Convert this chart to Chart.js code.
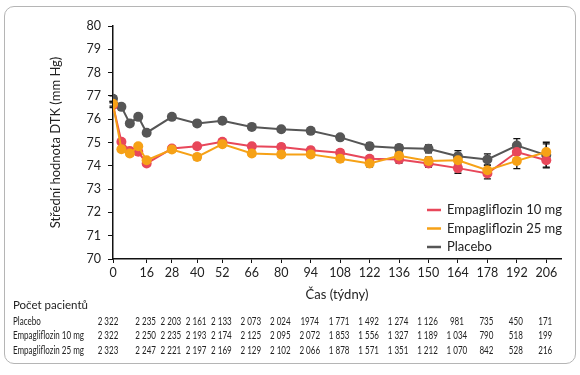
<!DOCTYPE html>
<html>
<head>
<meta charset="utf-8">
<script src="https://cdn.jsdelivr.net/npm/chart.js@4.4.0/dist/chart.umd.min.js"></script>
<style>
  html, body { margin: 0; padding: 0; background: #fff; }
  #wrap { position: relative; width: 580px; height: 375px; }
  #frame {
    position: absolute; left: 4px; top: 6px; width: 572px; height: 358px;
    border: 1px solid #b5b5b5; border-radius: 10px; box-sizing: border-box;
  }
  canvas { position: absolute; left: 0; top: 0; }
</style>
</head>
<body>
<div id="wrap">
  <div id="frame"></div>
  <canvas id="graf" width="580" height="375"></canvas>
</div>
<script>
// Týdny měření
const tydny = [0, 4, 8, 12, 16, 28, 40, 52, 66, 80, 94, 108, 122, 136, 150, 164, 178, 192, 206];
// Popisky osy x (a sloupce tabulky)
const popiskyX = [0, 16, 28, 40, 52, 66, 80, 94, 108, 122, 136, 150, 164, 178, 192, 206];

// Střední hodnota DTK (mm Hg)
const placebo = [76.88, 76.53, 75.82, 76.1, 75.42, 76.1, 75.82, 75.93, 75.67, 75.57, 75.5, 75.22, 74.84, 74.76, 74.73, 74.41, 74.27, 74.87, 74.46];
const empa10  = [76.6, 75.03, 74.64, 74.6, 74.1, 74.74, 74.84, 75.03, 74.84, 74.81, 74.67, 74.56, 74.3, 74.27, 74.1, 73.9, 73.67, 74.59, 74.24];
const empa25  = [76.66, 74.71, 74.53, 74.84, 74.24, 74.7, 74.38, 74.93, 74.53, 74.49, 74.49, 74.3, 74.1, 74.43, 74.21, 74.24, 73.81, 74.21, 74.59];

// Chybové úsečky (±)
const chybaPlacebo = [0.12, 0.1, 0.1, 0.1, 0.1, 0.1, 0.12, 0.1, 0.1, 0.1, 0.12, 0.12, 0.14, 0.15, 0.17, 0.24, 0.24, 0.3, 0.55];
const chybaEmpa10  = [0.1, 0.1, 0.1, 0.1, 0.1, 0.1, 0.1, 0.1, 0.1, 0.12, 0.12, 0.12, 0.14, 0.15, 0.16, 0.22, 0.23, 0.28, 0.3];
const chybaEmpa25  = [0.1, 0.1, 0.1, 0.1, 0.1, 0.1, 0.12, 0.1, 0.1, 0.12, 0.12, 0.12, 0.14, 0.15, 0.16, 0.2, 0.22, 0.33, 0.35];

// Počet pacientů
const pocetPlacebo = ['2 322', '2 235', '2 203', '2 161', '2 133', '2 073', '2 024', '1974', '1 771', '1 492', '1 274', '1 126', '981', '735', '450', '171'];
const pocetEmpa10  = ['2 322', '2 250', '2 235', '2 193', '2 174', '2 125', '2 095', '2 072', '1 853', '1 556', '1 327', '1 189', '1 034', '790', '518', '199'];
const pocetEmpa25  = ['2 323', '2 247', '2 221', '2 197', '2 169', '2 129', '2 102', '2 066', '1 878', '1 571', '1 351', '1 212', '1 070', '842', '528', '216'];

const barvy = { e10: '#e8475a', e25: '#f6a116', pl: '#565656' };
const pismo = 'Lato, "Open Sans", sans-serif';

const body = (hodnoty) => hodnoty.map((v, i) => ({ x: tydny[i], y: v }));

// Chybové úsečky – kreslí se pod body
const chybyPlugin = {
  id: 'chyby',
  beforeDatasetsDraw(chart) {
    const ctx = chart.ctx;
    const xs = chart.scales.x, ys = chart.scales.y;
    ctx.save();
    ctx.strokeStyle = '#111';
    ctx.lineWidth = 1.3;
    chart.data.datasets.forEach(ds => {
      ds.data.forEach((p, i) => {
        const e = ds.chyby[i];
        const x = xs.getPixelForValue(p.x);
        const y1 = ys.getPixelForValue(p.y + e);
        const y2 = ys.getPixelForValue(p.y - e);
        ctx.beginPath();
        ctx.moveTo(x, y1); ctx.lineTo(x, y2);
        ctx.moveTo(x - 3.5, y1); ctx.lineTo(x + 3.5, y1);
        ctx.moveTo(x - 3.5, y2); ctx.lineTo(x + 3.5, y2);
        ctx.stroke();
      });
    });
    ctx.restore();
  }
};

// zúžený text (tabulka je v úzkém písmu)
function uzkyText(ctx, text, x, y, sx, zarovnani) {
  const w = ctx.measureText(text).width * sx;
  let x0 = x;
  if (zarovnani === 'center') x0 = x - w / 2;
  ctx.save();
  ctx.translate(x0, y);
  ctx.scale(sx, 1);
  ctx.textAlign = 'left';
  ctx.fillText(text, 0, 0);
  ctx.restore();
}

// Legenda a tabulka počtu pacientů
const doplnkyPlugin = {
  id: 'doplnky',
  afterDraw(chart) {
    const ctx = chart.ctx;
    const xs = chart.scales.x;
    ctx.save();
    // legenda
    const polozky = [
      ['Empagliflozin 10 mg', barvy.e10],
      ['Empagliflozin 25 mg', barvy.e25],
      ['Placebo', barvy.pl]
    ];
    ctx.font = '13px ' + pismo;
    ctx.textBaseline = 'middle';
    polozky.forEach((p, i) => {
      const y = 210 + i * 18.5;
      ctx.strokeStyle = p[1];
      ctx.lineWidth = 2.5;
      ctx.beginPath(); ctx.moveTo(427, y); ctx.lineTo(441, y); ctx.stroke();
      ctx.fillStyle = '#222';
      ctx.textAlign = 'left';
      ctx.fillText(p[0], 447, y);
    });
    // tabulka
    ctx.fillStyle = '#222';
    ctx.textAlign = 'left';
    ctx.font = '11.5px ' + pismo;
    ctx.fillText('Počet pacientů', 13, 305);
    const radky = [['Placebo', pocetPlacebo], ['Empagliflozin 10 mg', pocetEmpa10], ['Empagliflozin 25 mg', pocetEmpa25]];
    ctx.font = '12px ' + pismo;
    const sx = 71 / ctx.measureText('Empagliflozin 10 mg').width;
    radky.forEach((r, i) => {
      const y = 321 + i * 14.6;
      uzkyText(ctx, r[0], 13, y, sx, 'left');
      r[1].forEach((t, j) => {
        const x = xs.getPixelForValue(popiskyX[j]) - (j === 0 ? 5 : 1);
        uzkyText(ctx, t, x, y, sx, 'center');
      });
    });
    ctx.restore();
  }
};

const spolecne = { borderWidth: 2, pointRadius: 5, pointHoverRadius: 5, pointBorderWidth: 0, tension: 0 };

new Chart(document.getElementById('graf'), {
  type: 'line',
  data: {
    datasets: [
      { label: 'Empagliflozin 25 mg', data: body(empa25), chyby: chybaEmpa25, borderColor: barvy.e25, backgroundColor: barvy.e25, ...spolecne },
      { label: 'Empagliflozin 10 mg', data: body(empa10), chyby: chybaEmpa10, borderColor: barvy.e10, backgroundColor: barvy.e10, ...spolecne },
      { label: 'Placebo', data: body(placebo), chyby: chybaPlacebo, borderColor: barvy.pl, backgroundColor: barvy.pl, ...spolecne }
    ]
  },
  options: {
    responsive: false,
    animation: false,
    layout: { padding: { left: 0, top: 26, right: 19, bottom: 0 } },
    plugins: { legend: { display: false }, tooltip: { enabled: false } },
    scales: {
      x: {
        type: 'linear',
        min: 0,
        max: 213,
        afterBuildTicks: (s) => { s.ticks = popiskyX.map(v => ({ value: v })); },
        afterFit: (s) => { s.height = 116; },
        grid: { drawOnChartArea: false, drawTicks: true, tickLength: 4, color: '#111' },
        border: { color: '#111', width: 1.5 },
        ticks: { color: '#222', font: { family: pismo, size: 12.5 }, padding: 2, maxRotation: 0, autoSkip: false },
        title: { display: true, text: 'Čas (týdny)', color: '#222', font: { family: pismo, size: 13 }, padding: { top: 0, bottom: 72 } }
      },
      y: {
        min: 70,
        max: 80,
        ticks: { stepSize: 1, color: '#222', font: { family: pismo, size: 12.5 }, padding: 7 },
        afterFit: (s) => { s.width = 113; },
        grid: { drawOnChartArea: false, drawTicks: true, tickLength: 5, color: '#111' },
        border: { color: '#111', width: 1.5 },
        title: { display: true, text: 'Střední hodnota DTK (mm Hg)', color: '#222', font: { family: pismo, size: 13 }, padding: { top: 48, bottom: 0 } }
      }
    }
  },
  plugins: [chybyPlugin, doplnkyPlugin]
});
</script>
</body>
</html>
